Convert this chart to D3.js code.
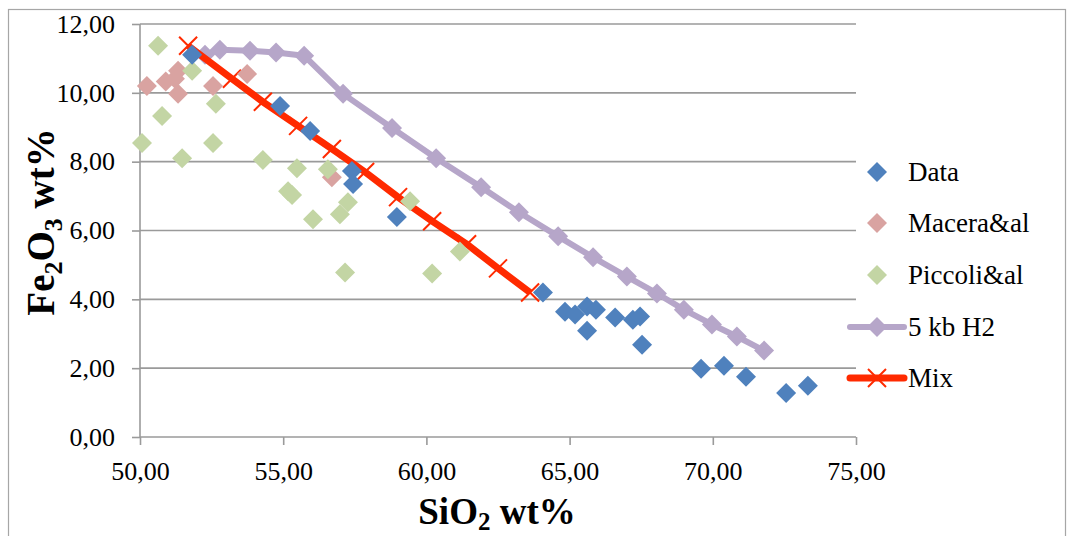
<!DOCTYPE html>
<html><head><meta charset="utf-8">
<script src="https://cdn.jsdelivr.net/npm/d3@7"></script>
<style>body{margin:0;background:#fff}svg{display:block}text{font-family:"Liberation Serif",serif}</style>
</head><body><svg id="c" width="1067" height="536"></svg>
<script>
const dataPts = [[51.82,11.11],[54.89,9.62],[55.94,8.89],[57.40,7.73],[57.44,7.35],[58.97,6.39],[64.07,4.20],[64.84,3.64],[65.19,3.56],[65.61,3.79],[65.92,3.70],[65.61,3.09],[66.59,3.47],[67.21,3.41],[67.46,3.50],[67.53,2.68],[69.59,1.98],[70.39,2.07],[71.16,1.75],[72.56,1.28],[73.32,1.49]];
const maceraPts = [[50.24,10.20],[50.90,10.33],[51.22,10.41],[51.33,10.64],[51.33,9.97],[52.55,10.20],[53.74,10.55],[56.70,7.55]];
const piccoliPts = [[50.63,11.37],[51.82,10.64],[50.77,9.33],[50.07,8.54],[51.47,8.10],[52.65,9.68],[52.55,8.54],[54.29,8.05],[55.48,7.81],[55.17,7.14],[55.31,7.03],[56.56,7.78],[56.04,6.33],[57.26,6.82],[56.98,6.47],[59.43,6.85],[61.17,5.39],[57.16,4.78],[60.20,4.75]];
const kb5Pts = [[52.27,11.11],[52.79,11.25],[53.84,11.22],[54.75,11.17],[55.73,11.08],[57.09,9.97],[58.80,8.98],[60.34,8.10],[61.91,7.26],[63.23,6.53],[64.60,5.83],[65.82,5.22],[67.00,4.66],[68.05,4.17],[68.99,3.70],[69.97,3.27],[70.84,2.92],[71.79,2.51]];
const mixPts = [[51.68,11.37],[53.21,10.41],[54.29,9.74],[55.52,9.04],[56.70,8.37],[57.86,7.70],[59.01,6.97],[60.20,6.27],[61.42,5.60],[62.50,4.90],[63.62,4.20]];
const xTicks = [50,55,60,65,70,75];
const yTicks = [0,2,4,6,8,10,12];
const legendNames = ["Data","Macera&al","Piccoli&al","5 kb H2","Mix"];

const C = {data:"#4f81bd", macera:"#d9a3a1", piccoli:"#c3d5a4", kb5:"#b6a6c9", mix:"#ff2a00", grid:"#9a9a9a"};
const svg = d3.select("#c");
const x = d3.scaleLinear().domain([50,75]).range([140,856]);
const y = d3.scaleLinear().domain([0,12]).range([437,24]);
const fmt = d => d3.format(".2f")(d).replace(".", ",");

// frame
svg.append("rect").attr("x",8.5).attr("y",9.5).attr("width",1057).attr("height",560).attr("fill","none").attr("stroke","#a6a6a6").attr("stroke-width",1.2);

// grid
svg.append("g").selectAll("line").data(yTicks.slice(1)).join("line")
  .attr("x1",x(50)).attr("x2",x(75)).attr("y1",d=>y(d)).attr("y2",d=>y(d))
  .attr("stroke",C.grid).attr("stroke-width",1.6);

// axes
const yAx = svg.append("g").attr("transform",`translate(${x(50)},0)`)
  .call(d3.axisLeft(y).tickValues(yTicks).tickSize(8).tickPadding(17).tickFormat(fmt));
const xAx = svg.append("g").attr("transform",`translate(0,${y(0)})`)
  .call(d3.axisBottom(x).tickValues(xTicks).tickSize(8).tickPadding(17).tickFormat(fmt));
[yAx,xAx].forEach(a=>{
  a.select(".domain").attr("stroke",C.grid).attr("stroke-width",1.6);
  a.selectAll(".tick line").attr("stroke",C.grid).attr("stroke-width",1.6);
  a.selectAll("text").attr("font-family","Liberation Serif").attr("font-size",26).attr("fill","#000");
});
xAx.select(".domain").attr("d",`M${x(50)},0H${x(75)}`);
yAx.select(".domain").attr("d",`M0,${y(0)}V${y(12)}`);

const diamond = (g, pts, color, s) => g.selectAll("path.m").data(pts).join("path")
  .attr("class","m").attr("transform",d=>`translate(${x(d[0])},${y(d[1])})`)
  .attr("d",`M0,${-s}L${s},0L0,${s}L${-s},0Z`).attr("fill",color);

const line = d3.line().x(d=>x(d[0])).y(d=>y(d[1]));
// 5 kb H2
const gK = svg.append("g");
gK.append("path").datum(kb5Pts).attr("d",line).attr("fill","none").attr("stroke",C.kb5).attr("stroke-width",6).attr("stroke-linejoin","round");
diamond(gK, kb5Pts, C.kb5, 10);
// Mix
const gM = svg.append("g");
gM.append("path").datum(mixPts).attr("d",line).attr("fill","none").attr("stroke",C.mix).attr("stroke-width",7);
const xm = (g, pts, s) => g.selectAll("path.x").data(pts).join("path").attr("class","x")
  .attr("transform",d=>`translate(${x(d[0])},${y(d[1])})`)
  .attr("d",`M${-s},${-s}L${s},${s}M${s},${-s}L${-s},${s}`).attr("stroke",C.mix).attr("stroke-width",2).attr("fill","none");
xm(gM, mixPts, 9);

diamond(svg.append("g"), maceraPts, C.macera, 10);
diamond(svg.append("g"), piccoliPts, C.piccoli, 10);
diamond(svg.append("g"), dataPts, C.data, 10);

// legend
const lg = svg.append("g");
const ly = [172,223,275,327,378];
legendNames.forEach((n,i)=>{
  const g = lg.append("g").attr("transform",`translate(0,${ly[i]})`);
  if(i===3){ g.append("line").attr("x1",850).attr("x2",904).attr("stroke",C.kb5).attr("stroke-width",6).attr("stroke-linecap","round"); }
  if(i===4){ g.append("line").attr("x1",850).attr("x2",904).attr("stroke",C.mix).attr("stroke-width",7).attr("stroke-linecap","round"); }
  const col = [C.data,C.macera,C.piccoli,C.kb5][i];
  if(i<4) g.append("path").attr("transform","translate(877,0)").attr("d","M0,-10L10,0L0,10L-10,0Z").attr("fill",col);
  else g.append("path").attr("transform","translate(877,0)").attr("d","M-9,-9L9,9M9,-9L-9,9").attr("stroke",C.mix).attr("stroke-width",2);
  g.append("text").attr("x",908).attr("y",0).attr("dy","0.35em").attr("font-size",27).text(n);
});

// axis titles
const xt = svg.append("text").attr("x",497).attr("y",524).attr("text-anchor","middle").attr("font-weight","bold").attr("font-size",37);
xt.append("tspan").text("SiO");
xt.append("tspan").attr("font-size",25).attr("dy",6).text("2");
xt.append("tspan").attr("dy",-6).text(" wt%");
const yt = svg.append("text").attr("transform","translate(54,222) rotate(-90)").attr("text-anchor","middle").attr("font-weight","bold").attr("font-size",39);
yt.append("tspan").text("Fe");
yt.append("tspan").attr("font-size",26).attr("dy",8).text("2");
yt.append("tspan").attr("dy",-8).text("O");
yt.append("tspan").attr("font-size",26).attr("dy",8).text("3");
yt.append("tspan").attr("dy",-8).text(" wt%");
</script></body></html>
